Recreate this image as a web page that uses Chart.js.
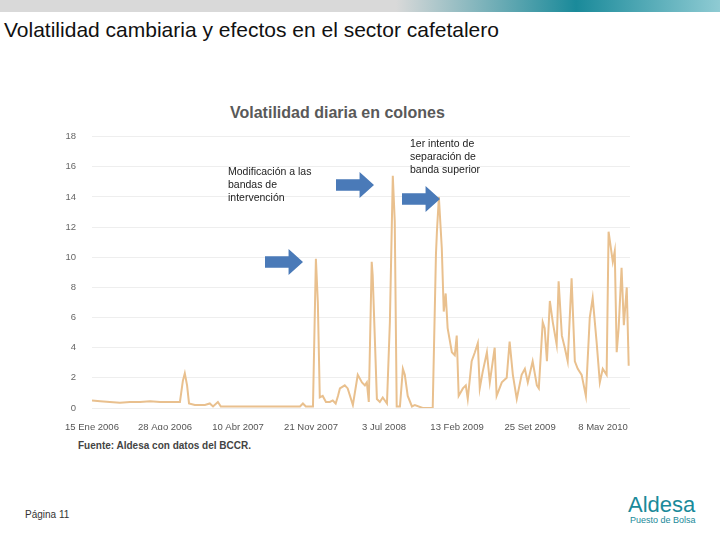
<!DOCTYPE html>
<html>
<head>
<meta charset="utf-8">
<script src="https://cdn.jsdelivr.net/npm/chart.js@4/dist/chart.umd.min.js"></script>
<style>
  body { margin: 0; width: 720px; height: 540px; position: relative; background: #fff; font-family: "Liberation Sans", Arial, sans-serif; overflow: hidden; }
  .topbar { position: absolute; left: 0; top: 0; width: 720px; height: 12px; background: linear-gradient(to right, #d9d9d9 0%, #d9d9d9 55%, #1a8a9a 80%, #8fcbd3 100%); }
  .title { position: absolute; left: 4px; top: 18px; font-size: 21px; color: #111; }
  .ctitle { position: absolute; left: 230px; top: 104px; font-size: 16px; font-weight: bold; color: #595959; }
  .note { position: absolute; font-size: 10.5px; color: #222; line-height: 13px; z-index: 2; }
  .src { position: absolute; left: 78px; top: 440px; font-size: 10px; font-weight: bold; color: #444; }
  .page { position: absolute; left: 25px; top: 509px; font-size: 10px; color: #333; }
  .arrow { position: absolute; width: 38px; height: 26px; background: #4a7ab8; z-index: 2; clip-path: polygon(0 28%, 62% 28%, 62% 0, 100% 50%, 62% 100%, 62% 72%, 0 72%); }
  .logo { position: absolute; left: 628px; top: 492px; color: #1a8a9a; font-size: 22px; }
  .logo2 { position: absolute; left: 630px; top: 515px; color: #1a8a9a; font-size: 9px; }
  #c { position: absolute; left: 40px; top: 115px; z-index: 1; }
</style>
</head>
<body>
<div class="topbar"></div>
<div class="title">Volatilidad cambiaria y efectos en el sector cafetalero</div>
<div class="ctitle">Volatilidad diaria en colones</div>
<div class="note" style="left:228px;top:165px;">Modificación a las<br>bandas de<br>intervención</div>
<div class="note" style="left:410px;top:137px;">1er intento de<br>separación de<br>banda superior</div>
<div class="arrow" style="left:265px;top:249px;"></div>
<div class="arrow" style="left:336px;top:172px;"></div>
<div class="arrow" style="left:402px;top:186px;"></div>
<div class="src">Fuente: Aldesa con datos del BCCR.</div>
<div class="page">Página 11</div>
<div class="logo">Aldesa</div>
<div class="logo2">Puesto de Bolsa</div>
<canvas id="c" width="610" height="315"></canvas>
<script>
// days since 15 Ene 2006
const days = [0,25,55,86,117,148,179,210,240,271,280,286,293,299,317,348,363,373,388,397,456,517,579,641,650,659,681,690,696,702,711,721,733,742,751,758,
  764,779,788,804,819,832,841,847,853,862,865,878,887,896,909,918,927,933,939,949,958,964,973,986,995,1019,1050,1060,1063,1069,1078,1084,1090,1096,
  1109,1118,1124,1130,1143,1152,1158,1170,1180,1189,1195,1204,1217,1226,1241,1247,1263,1278,1287,1297,1309,1324,1334,1343,1358,1371,1377,1389,1395,
  1402,1411,1420,1432,1438,1448,1457,1466,1478,1488,1497,1509,1522,1534,1543,1555,1565,1574,1586,1592,1605,1611,1617,1623,1632,1639,1648,1654];
const volatility = [0.5,0.45,0.4,0.35,0.4,0.4,0.45,0.4,0.4,0.4,1.8,2.3,1.5,0.3,0.2,0.2,0.3,0.1,0.4,0.1,0.1,0.1,0.1,0.1,0.3,0.1,0.1,9.9,7,0.7,0.8,0.4,0.4,0.5,0.3,0.8,
  1.3,1.5,1.3,0.2,2.2,1.7,1.5,1.7,0.4,9.7,8.8,0.6,0.4,0.7,0.3,5.7,15.4,12.4,0.1,0.1,2.6,2.2,0.8,0.1,0.2,0,0,10.2,11.7,14,10.6,6.4,7.6,5.3,
  3.7,3.5,4.8,0.8,1.3,1.5,0.6,3.1,3.7,4.3,1.3,2.4,3.7,1.7,4.0,0.8,1.7,2.0,4.4,2.2,0.6,2.2,2.6,1.7,3.1,1.5,1.3,5.7,5.3,
  3.1,7.1,5.7,4.2,8.4,4.8,4.0,3.1,8.6,3.1,2.6,2.2,0.8,6.0,7.3,4.4,1.7,2.6,2.2,11.7,9.7,10.4,3.7,5.3,9.3,5.5,8.0,2.8];
const tickLabels = ["15 Ene 2006","28 Ago 2006","10 Abr 2007","21 Nov 2007","3 Jul 2008","13 Feb 2009","25 Set 2009","8 May 2010"];
const tickStep = 225;

const tickFont = { family: "Liberation Sans", size: 9.5 };
new Chart(document.getElementById("c"), {
  type: "line",
  data: {
    datasets: [{
      data: days.map((d, i) => ({ x: d, y: volatility[i] })),
      borderColor: "#e9c08e",
      borderWidth: 2,
      pointRadius: 0,
      tension: 0
    }]
  },
  options: {
    responsive: false,
    animation: false,
    plugins: { legend: { display: false }, tooltip: { enabled: false } },
    layout: { padding: { top: 6, right: 20, bottom: 0, left: 0 } },
    scales: {
      x: {
        type: "linear", min: 0, max: 1658,
        afterBuildTicks: s => { s.ticks = tickLabels.map((_, i) => ({ value: i * tickStep })); },
        afterFit: s => { s.height = 22; },
        grid: { display: false },
        border: { display: false },
        ticks: { color: "#555", font: tickFont, maxRotation: 0, autoSkip: false, padding: 6,
          callback: v => tickLabels[Math.round(v / tickStep)] }
      },
      y: {
        min: 0, max: 18,
        afterFit: s => { s.width = 52; },
        grid: { color: "#eeeeee", drawTicks: false },
        border: { display: false },
        ticks: { stepSize: 2, color: "#666", font: tickFont, padding: 16 }
      }
    }
  }
});
</script>
</body>
</html>
